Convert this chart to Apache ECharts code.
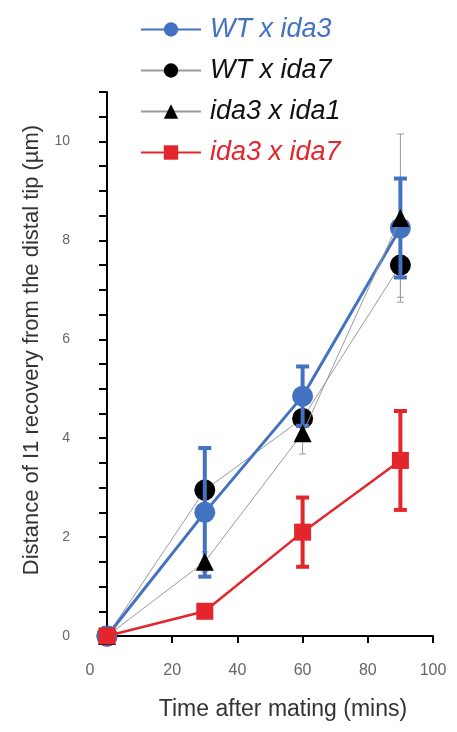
<!DOCTYPE html>
<html>
<head>
<meta charset="utf-8">
<script src="https://cdn.jsdelivr.net/npm/echarts@6/dist/echarts.min.js"></script>
<style>html,body{margin:0;padding:0;background:#fff}#c{width:457px;height:732px}</style>
</head>
<body>
<div id="c"></div>
<script>
// ---- data ----
var times = [0, 30, 60, 90];
var seriesNames = ['WT x ida3', 'WT x ida7', 'ida3 x ida1', 'ida3 x ida7'];
var wtIda3 = [0, 2.5, 4.85, 8.25];
var wtIda3Err = [0, 1.3, 0.6, 1.0];
var wtIda7 = [0, 2.95, 4.4, 7.5];
var wtIda7Err = [0, 0.2, 0.3, 0.65];
var ida3Ida1 = [0, 1.5, 4.1, 8.45];
var ida3Ida1Err = [0, 0.2, 0.42, 1.7];
var ida3Ida7 = [0, 0.5, 2.1, 3.55];
var ida3Ida7Err = [0, 0.05, 0.7, 1.0];
var xTicks = [0, 20, 40, 60, 80, 100];
var yTickLabels = [0, 2, 4, 6, 8, 10];

var BLUE = '#4272c0', RED = '#e3262b', BLACK = '#000', GRAY = '#9a9a9a';
var FONT = '"Liberation Sans", Arial, sans-serif';

function pts(ys) { return times.map(function (t, i) { return [t, ys[i]]; }); }
function errPts(ys, es) { return times.map(function (t, i) { return [t, ys[i], ys[i] - es[i], ys[i] + es[i]]; }); }

function errSeries(name, ys, es, color, width, cap, z) {
  return {
    type: 'custom', name: name, z: z, silent: true,
    data: errPts(ys, es),
    encode: { x: 0, y: [1, 2, 3] },
    renderItem: function (params, api) {
      var x = api.value(0);
      var lo = api.coord([x, api.value(2)]);
      var hi = api.coord([x, api.value(3)]);
      var st = { stroke: color, lineWidth: width };
      return {
        type: 'group', children: [
          { type: 'line', shape: { x1: lo[0], y1: lo[1], x2: hi[0], y2: hi[1] }, style: st },
          { type: 'line', shape: { x1: hi[0] - cap / 2, y1: hi[1], x2: hi[0] + cap / 2, y2: hi[1] }, style: st },
          { type: 'line', shape: { x1: lo[0] - cap / 2, y1: lo[1], x2: lo[0] + cap / 2, y2: lo[1] }, style: st }
        ]
      };
    }
  };
}

var chart = echarts.init(document.getElementById('c'), null, { renderer: 'canvas' });
chart.setOption({
  animation: false,
  backgroundColor: '#fff',
  textStyle: { fontFamily: FONT },
  grid: { left: 107, right: 24, top: 92, bottom: 96 },
  legend: {
    orient: 'vertical', left: 135, top: 11,
    itemWidth: 60, itemHeight: 18, itemGap: 14,
    selectedMode: false,
    textStyle: { fontSize: 27, fontStyle: 'italic', fontFamily: FONT, color: '#111', padding: [0, 0, 0, 4] },
    data: [
      { name: seriesNames[0], textStyle: { color: BLUE } },
      { name: seriesNames[1], textStyle: { color: '#111' } },
      { name: seriesNames[2], textStyle: { color: '#111' } },
      { name: seriesNames[3], textStyle: { color: RED } }
    ]
  },
  xAxis: {
    type: 'value', min: 0, max: 100, interval: 20, offset: 18,
    name: 'Time after mating (mins)', nameLocation: 'middle', nameGap: 44,
    nameTextStyle: { fontSize: 23, color: '#333', fontFamily: FONT, padding: [0, 0, 0, 26] },
    axisLine: { lineStyle: { color: '#000', width: 2 } },
    axisTick: { length: 7, lineStyle: { color: '#000', width: 2 } },
    axisLabel: {
      margin: 9, fontSize: 16, color: '#666', fontFamily: FONT,
      formatter: function (v) { return v === 0 ? '{z|0}' : String(v); },
      rich: { z: { fontSize: 16, color: '#666', padding: [0, 34, 0, 0] } }
    },
    splitLine: { show: false }
  },
  yAxis: {
    type: 'value', min: 0, max: 11, interval: 0.5, offset: 15,
    name: 'Distance of I1 recovery from the distal tip (µm)', nameLocation: 'middle', nameGap: 49,
    nameTextStyle: { fontSize: 22, color: '#333', fontFamily: FONT, padding: [0, 0, 0, 28] },
    axisLine: { lineStyle: { color: '#000', width: 2 } },
    axisTick: { length: 8, lineStyle: { color: '#000', width: 2 } },
    axisLabel: {
      margin: 22, fontSize: 14, color: '#666', fontFamily: FONT,
      formatter: function (v) { return yTickLabels.indexOf(v) >= 0 ? String(v) : ''; }
    },
    splitLine: { show: false }
  },
  series: [
    errSeries('err1', wtIda7, wtIda7Err, GRAY, 1, 7, 1),
    errSeries('err2', ida3Ida1, ida3Ida1Err, GRAY, 1, 7, 1),
    errSeries('err0', wtIda3, wtIda3Err, BLUE, 4, 13, 3),
    errSeries('err3', ida3Ida7, ida3Ida7Err, RED, 4, 13, 7),
    {
      type: 'line', name: seriesNames[1], data: pts(wtIda7), z: 2,
      symbol: 'circle', symbolSize: 21,
      lineStyle: { color: GRAY, width: 1 }, itemStyle: { color: BLACK }
    },
    {
      type: 'line', name: seriesNames[2], data: pts(ida3Ida1), z: 5,
      symbol: 'triangle', symbolSize: 18,
      lineStyle: { color: GRAY, width: 1 }, itemStyle: { color: BLACK }
    },
    {
      type: 'line', name: seriesNames[0], data: pts(wtIda3), z: 4,
      symbol: 'circle', symbolSize: 21,
      lineStyle: { color: BLUE, width: 3 }, itemStyle: { color: BLUE }
    },
    {
      type: 'line', name: seriesNames[3], data: pts(ida3Ida7), z: 8,
      symbol: 'rect', symbolSize: 17,
      lineStyle: { color: RED, width: 2.5 }, itemStyle: { color: RED }
    }
  ]
});
</script>
</body>
</html>
